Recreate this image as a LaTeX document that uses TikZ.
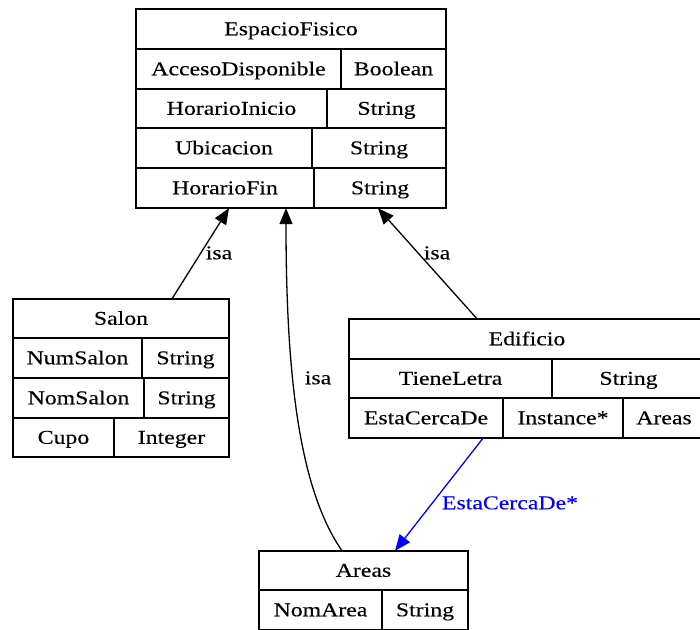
\documentclass[tikz,border=0pt]{standalone}
\usepackage{fontspec}
\setmainfont{Liberation Serif}[FakeStretch=1.22,FakeBold=0.2]
\usetikzlibrary{arrows.meta}
\newcommand\ucell[6]{\node[cellbox, minimum width={(#4)-(#2)}, minimum height={(#5)-(#3)}] (#1) at ({((#2)+(#4))/2},{((#3)+(#5))/2}) {#6};}
\newcommand\uouter[5]{\node[outerbox, minimum width={(#4)-(#2)}, minimum height={(#5)-(#3)}] (#1) at ({((#2)+(#4))/2},{((#3)+(#5))/2}) {};}
\begin{document}
\begin{tikzpicture}[x=1pt,y=-1pt,
  cellbox/.style={draw, line width=1.3pt, inner sep=0pt, font=\fontsize{19.5}{22}\selectfont, text height=14pt, text depth=1.5pt},
  outerbox/.style={draw=none, inner sep=0pt},
  lbl/.style={inner sep=0pt, font=\fontsize{19.5}{22}\selectfont, text height=14pt, text depth=1.5pt},
  isaedge/.style={line width=1.3pt, -{Triangle[length=16pt,width=13pt]}},
  refedge/.style={blue, line width=1.3pt, -{Triangle[length=16pt,width=13pt]}}]
\clip (0,0) rectangle (700,629);
\fill[white] (0,0) rectangle (700,629);
% EspacioFisico
\uouter{EF}{136}{9}{446}{208}
\ucell{efh}{136}{9}{446}{49}{EspacioFisico}
\ucell{efa1}{136}{49}{341}{89}{AccesoDisponible}
\ucell{efb1}{341}{49}{446}{89}{Boolean}
\ucell{efa2}{136}{89}{327}{128}{HorarioInicio}
\ucell{efb2}{327}{89}{446}{128}{String}
\ucell{efa3}{136}{128}{312}{168}{Ubicacion}
\ucell{efb3}{312}{128}{446}{168}{String}
\ucell{efa4}{136}{168}{314}{208}{HorarioFin}
\ucell{efb4}{314}{168}{446}{208}{String}
% Salon
\uouter{SAL}{13}{299}{229}{457}
\ucell{salh}{13}{299}{229}{338}{Salon}
\ucell{sala1}{13}{338}{142}{378}{NumSalon}
\ucell{salb1}{142}{338}{229}{378}{String}
\ucell{sala2}{13}{378}{144}{418}{NomSalon}
\ucell{salb2}{144}{378}{229}{418}{String}
\ucell{sala3}{13}{418}{114}{457}{Cupo}
\ucell{salb3}{114}{418}{229}{457}{Integer}
% Edificio
\uouter{ED}{349}{319}{705}{438}
\ucell{edh}{349}{319}{705}{359}{Edificio}
\ucell{eda1}{349}{359}{552}{398}{TieneLetra}
\ucell{edb1}{552}{359}{705}{398}{String}
\ucell{eda2}{349}{398}{503}{438}{EstaCercaDe}
\ucell{edb2}{503}{398}{623}{438}{Instance*}
\ucell{edc2}{623}{398}{705}{438}{Areas}
% Areas
\uouter{AR}{259}{551}{468}{630}
\ucell{arh}{259}{551}{468}{590}{Areas}
\ucell{ara1}{259}{590}{382}{630}{NomArea}
\ucell{arb1}{382}{590}{468}{630}{String}
% connectors
\draw[isaedge] ([xshift=51pt]SAL.north) -- ([xshift=-62pt]EF.south);
\draw[isaedge] ([xshift=-21.5pt]AR.north) .. controls (300,490) and (286,380) .. ([xshift=-5pt]EF.south);
\draw[isaedge] ([xshift=-50pt]ED.north) -- ([xshift=87pt]EF.south);
\draw[refedge] ([xshift=-44pt]ED.south) -- ([xshift=31.5pt]AR.north);
% labels
\node[lbl] (l1) at (219,253) {isa};
\node[lbl] (l2) at (318,378) {isa};
\node[lbl] (l3) at (437,253) {isa};
\node[lbl, text=blue] (l4) at (510,503) {EstaCercaDe*};
\end{tikzpicture}
\end{document}
